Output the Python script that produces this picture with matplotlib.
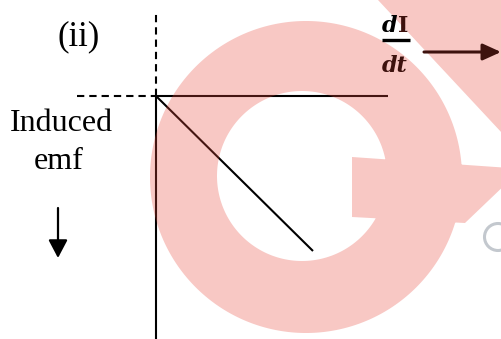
import numpy as np
import matplotlib
matplotlib.use("Agg")
import matplotlib.pyplot as plt
from matplotlib.path import Path
from matplotlib.patches import PathPatch, Circle

W, H = 502, 339

# ---- diagram data (logical units: dI/dt to the right, induced emf downwards) ----
di_dt_line = [0.0, 1.0]          # straight line: emf = -L * dI/dt
emf_line = [0.0, -1.0]
x_axis_span = [0.0, 1.48]
y_axis_span = [0.0, -1.57]
x_dash_span = [-0.50, 0.0]
y_dash_span = [0.0, 0.535]

panel_label = "(ii)"
y_label_lines = ["Induced", "emf"]
x_label_num = ["d", "I"]
x_label_den = "dt"

BROWN = "#3d120e"

# layout helpers (pixel geometry of the reference)
ORIGIN_PX = (156, 96)
UNIT_PX = (157, 155)
XLIM = (-ORIGIN_PX[0] / UNIT_PX[0], (W - ORIGIN_PX[0]) / UNIT_PX[0])
YLIM = (-(H - ORIGIN_PX[1]) / UNIT_PX[1], ORIGIN_PX[1] / UNIT_PX[1])


def px(x, y):
    return ((x - ORIGIN_PX[0]) / UNIT_PX[0], (ORIGIN_PX[1] - y) / UNIT_PX[1])


fig = plt.figure(figsize=(W / 100, H / 100), dpi=100)
fig.patch.set_facecolor("white")
ax = fig.add_axes([0, 0, 1, 1])
ax.set_xlim(*XLIM)
ax.set_ylim(*YLIM)
ax.axis("off")

LW = 1.5
dash = (0, (3.5, 2.4))
ax.plot(x_axis_span, [0, 0], color="black", lw=LW, solid_capstyle="butt")
ax.plot([0, 0], y_axis_span, color="black", lw=LW, solid_capstyle="butt")
ax.plot(x_dash_span, [0, 0], color="black", lw=LW, ls=dash)
ax.plot([0, 0], y_dash_span, color="black", lw=LW, ls=dash)
ax.plot(di_dt_line, emf_line, color="black", lw=LW, solid_capstyle="butt")

serif = "Liberation Serif"
ax.text(*px(79, 37), panel_label, fontsize=25, family=serif, ha="center", va="center")
ax.text(*px(61, 131), y_label_lines[0], fontsize=23, family=serif, ha="center", va="baseline")
ax.text(*px(59, 169), y_label_lines[1], fontsize=23, family=serif, ha="center", va="baseline")

# down arrow under the emf label
ax.annotate("", xy=px(58, 258), xytext=px(58, 208),
            arrowprops=dict(arrowstyle="-|>,head_length=1.1,head_width=0.58",
                            mutation_scale=10, lw=1.6, color="black",
                            shrinkA=0, shrinkB=0))

# ---- watermark overlay (pixel coordinates) ----
wax = fig.add_axes([0, 0, 1, 1])
wax.set_xlim(0, W)
wax.set_ylim(H, 0)
wax.axis("off")
wax.patch.set_visible(False)


def signed_area(v):
    x, y = v[:, 0], v[:, 1]
    return 0.5 * np.sum(x * np.roll(y, -1) - np.roll(x, -1) * y)


def closed_path(v, sign):
    v = np.asarray(v, float)
    if np.sign(signed_area(v)) != sign:
        v = v[::-1]
    v = np.vstack([v, v[:1]])
    return Path(v, closed=True)


th = np.linspace(0, 2 * np.pi, 361)[:-1]
outer = np.column_stack([306 + 156 * np.cos(th), 177 + 156 * np.sin(th)])
inner = np.column_stack([302 + 85 * np.cos(th), 176 + 85 * np.sin(th)])
crossbar = [(352, 157), (510, 168), (510, 180), (465, 223), (352, 217)]
slope = 133 / 124
band = [(378 - 5 / slope, -5), (520, -5), (520, (520 - 378) * slope)]

s = np.sign(signed_area(outer))
wm_path = Path.make_compound_path(
    closed_path(outer, s),
    closed_path(inner, -s),
    closed_path(crossbar, s),
    closed_path(band, s),
)
wax.add_patch(PathPatch(wm_path, facecolor=(232 / 255, 73 / 255, 60 / 255),
                        edgecolor="none", alpha=0.30))
wax.add_patch(Circle((498, 237), 13.5, fill=False, ec="#c3c8ce", lw=2.2))

# ---- top layer: dI/dt label and its arrow (drawn above the watermark) ----
tax = fig.add_axes([0, 0, 1, 1])
tax.set_xlim(*XLIM)
tax.set_ylim(*YLIM)
tax.axis("off")
tax.patch.set_visible(False)

lab_font = dict(family="DejaVu Serif", fontsize=16, weight="bold", va="baseline")
tax.text(*px(390, 32), x_label_num[0], style="italic", ha="center", color="black", **lab_font)
tax.text(*px(403, 32), x_label_num[1], ha="center", color=BROWN, **lab_font)
fx0, fy = px(382, 40)
fx1, _ = px(410, 40)
tax.plot([fx0, fx1], [fy, fy], color="black", lw=2.4, solid_capstyle="butt")
tax.text(*px(395, 71.5), x_label_den, style="italic", ha="center", color=BROWN, **lab_font)

tax.annotate("", xy=px(501, 52), xytext=px(424, 52),
             arrowprops=dict(arrowstyle="-|>,head_length=1.1,head_width=0.5",
                             mutation_scale=10, lw=2.2, color=BROWN,
                             shrinkA=0, shrinkB=0))

fig.savefig("out.png", dpi=100, facecolor="white")
